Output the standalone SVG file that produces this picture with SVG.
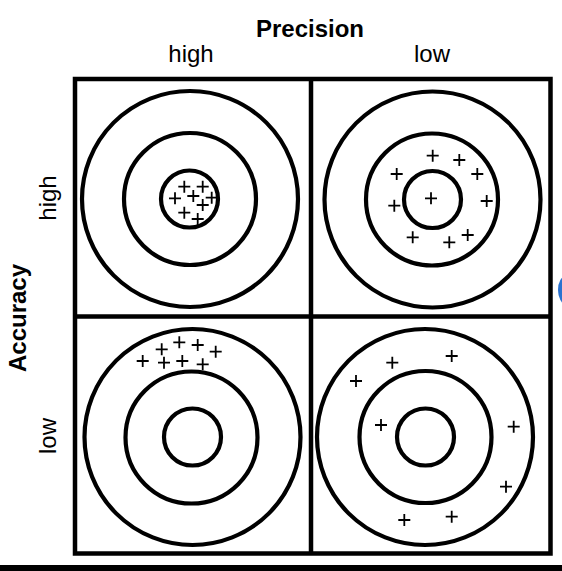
<svg xmlns="http://www.w3.org/2000/svg" width="562" height="571" viewBox="0 0 562 571">
<style>
.ring{fill:none;stroke:#000;stroke-width:4.2}
.grid{fill:none;stroke:#000;stroke-width:4.5}
.p{stroke:#000;stroke-width:1.8;fill:none}
.t{font-family:"Liberation Sans",Arial,sans-serif;font-size:24px;fill:#000}
.b{font-weight:bold}
</style>
<defs>
<path id="pl" d="M-6,0H6M0,-6V6"/>
</defs>
<rect width="562" height="571" fill="#fff"/>
<g id="labels">
<text class="t b" x="310" y="37" text-anchor="middle">Precision</text>
<text class="t" x="191" y="62" text-anchor="middle">high</text>
<text class="t" x="432" y="62" text-anchor="middle">low</text>
<text class="t b" transform="translate(26,318) rotate(-90)" text-anchor="middle">Accuracy</text>
<text class="t" transform="translate(56,198) rotate(-90)" text-anchor="middle">high</text>
<text class="t" transform="translate(56,436) rotate(-90)" text-anchor="middle">low</text>
</g>
<g id="grid">
<rect class="grid" x="75" y="79" width="475.5" height="474.5"/>
<line class="grid" x1="311" y1="79" x2="311" y2="553.5"/>
<line class="grid" x1="75" y1="316.5" x2="550.5" y2="316.5"/>
</g>
<g id="target-high-high">
<circle class="ring" cx="190" cy="199" r="108"/>
<circle class="ring" cx="190" cy="199" r="66"/>
<circle class="ring" cx="189.5" cy="199" r="28.5"/>
<g class="p">
<use href="#pl" x="184.3" y="186.7"/><use href="#pl" x="202.7" y="186.7"/><use href="#pl" x="175" y="198.3"/><use href="#pl" x="193.3" y="196"/><use href="#pl" x="211.7" y="197.7"/><use href="#pl" x="202.7" y="205"/><use href="#pl" x="184.3" y="212.7"/><use href="#pl" x="197.7" y="219"/>
</g>
</g>
<g id="target-high-low">
<circle class="ring" cx="432.5" cy="199.5" r="108"/>
<circle class="ring" cx="432" cy="199.5" r="66"/>
<circle class="ring" cx="432.5" cy="199.5" r="28.5"/>
<g class="p">
<use href="#pl" x="432.7" y="155.7"/><use href="#pl" x="459.3" y="160"/><use href="#pl" x="396.7" y="174"/><use href="#pl" x="477.3" y="174"/><use href="#pl" x="431" y="198.3"/><use href="#pl" x="394.3" y="205.7"/><use href="#pl" x="486.7" y="201"/><use href="#pl" x="412.7" y="237.3"/><use href="#pl" x="449.3" y="242.3"/><use href="#pl" x="467.7" y="235"/>
</g>
</g>
<g id="target-low-high">
<circle class="ring" cx="192.5" cy="437" r="108"/>
<circle class="ring" cx="191.5" cy="437.5" r="66"/>
<circle class="ring" cx="192.5" cy="437" r="28.5"/>
<g class="p">
<use href="#pl" x="179.3" y="342.3"/><use href="#pl" x="197.7" y="345"/><use href="#pl" x="161.7" y="349.3"/><use href="#pl" x="215.7" y="351.7"/><use href="#pl" x="142.7" y="361"/><use href="#pl" x="164" y="362.7"/><use href="#pl" x="182.3" y="361"/><use href="#pl" x="202.7" y="364.3"/>
</g>
</g>
<g id="target-low-low">
<circle class="ring" cx="425" cy="437" r="108"/>
<circle class="ring" cx="425.5" cy="437" r="66"/>
<circle class="ring" cx="425.5" cy="437" r="28.5"/>
<g class="p">
<use href="#pl" x="451.7" y="356"/><use href="#pl" x="392.3" y="362.7"/><use href="#pl" x="356" y="381"/><use href="#pl" x="381" y="425"/><use href="#pl" x="513.7" y="426.7"/><use href="#pl" x="506" y="486.7"/><use href="#pl" x="404.3" y="520"/><use href="#pl" x="451.7" y="516.7"/>
</g>
</g>
<rect x="0" y="565" width="562" height="6" fill="#000"/>
<ellipse cx="566" cy="290" rx="8" ry="14" fill="#2a72d0"/>
</svg>
